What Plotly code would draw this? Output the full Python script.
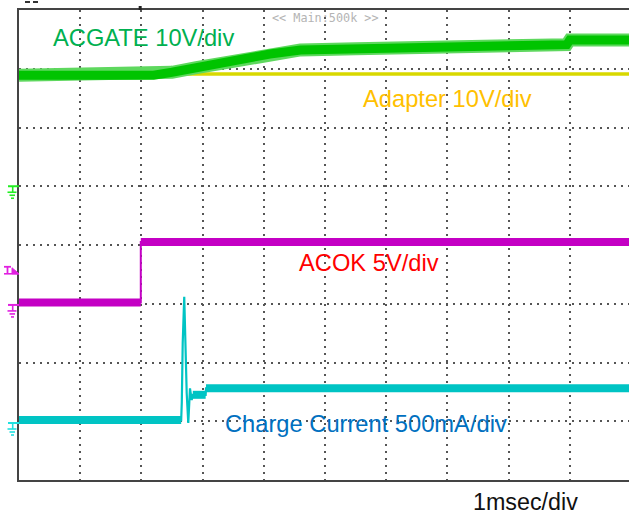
import plotly.graph_objects as go

# Horizontal axis: time in ms (1 ms/div); vertical axis: scope divisions (0..8)
green_t = [0, 2.2, 2.5, 2.9, 3.3, 3.7, 4.1, 4.6, 5.5, 6.5, 8.2, 8.3, 8.95, 9.0, 10]
green_v = [6.89, 6.89, 6.94, 7.02, 7.10, 7.18, 7.25, 7.32, 7.34, 7.36, 7.37, 7.41, 7.41, 7.49, 7.49]

yellow_t = [0, 10]
yellow_v = [6.91, 6.91]

mag_t = [0, 1.99, 1.99, 10]
mag_v = [3.02, 3.02, 4.05, 4.05]

cyan_t = [0, 2.65, 2.66, 2.675, 2.70, 2.724, 2.74, 2.766, 2.794, 2.822, 2.84, 3.05, 3.056, 10]
cyan_v = [1.02, 1.02, 1.32, 2.33, 3.12, 1.99, 1.48, 0.97, 1.56, 1.36, 1.45, 1.45, 1.56, 1.56]

ground_levels = {"green": 5.0, "magenta": 2.98, "cyan": 0.97}
trigger_level = 3.51
trigger_time = 1.98

labels = ["ACGATE 10V/div", "Adapter 10V/div", "ACOK 5V/div", "Charge Current 500mA/div"]
label_t = [0.52, 5.59, 4.55, 3.34]
label_v = [7.52, 6.48, 3.69, 0.96]
label_colors = ["#00b050", "#ffc000", "#ff0000", "#0070c0"]

GREEN = "#00c400"
YELLOW = "#d8d800"
MAGENTA = "#c400c4"
CYAN = "#00c4c4"

fig = go.Figure()

# Adapter (yellow)
fig.add_trace(go.Scatter(x=yellow_t, y=yellow_v, mode="lines",
                         line=dict(color=YELLOW, width=3.5), hoverinfo="skip"))
# ACGATE (green), noisy band drawn as a thick line with lighter fringe
fig.add_trace(go.Scatter(x=green_t, y=green_v, mode="lines",
                         line=dict(color="#5ed85e", width=13), hoverinfo="skip"))
fig.add_trace(go.Scatter(x=green_t, y=green_v, mode="lines",
                         line=dict(color=GREEN, width=9), hoverinfo="skip"))

# ACOK (magenta): thin full trace + thick flat segments
fig.add_trace(go.Scatter(x=mag_t, y=mag_v, mode="lines",
                         line=dict(color=MAGENTA, width=2), hoverinfo="skip"))
fig.add_trace(go.Scatter(x=[mag_t[0], mag_t[1], None, mag_t[2], mag_t[3]],
                         y=[mag_v[0], mag_v[1], None, mag_v[2], mag_v[3]],
                         mode="lines", line=dict(color=MAGENTA, width=8), hoverinfo="skip"))

# Charge current (cyan): thin full trace + thick flat segments
fig.add_trace(go.Scatter(x=cyan_t, y=cyan_v, mode="lines",
                         line=dict(color=CYAN, width=2.2), hoverinfo="skip"))
fig.add_trace(go.Scatter(x=[cyan_t[0], cyan_t[1], None, cyan_t[10], cyan_t[11], None, cyan_t[12], cyan_t[13]],
                         y=[cyan_v[0], cyan_v[1], None, cyan_v[10], cyan_v[11], None, cyan_v[12], cyan_v[13]],
                         mode="lines", line=dict(color=CYAN, width=8), hoverinfo="skip"))

shapes = []


def pline(level, x0, x1, y0, y1, color, width=1.6):
    shapes.append(dict(type="line", xref="paper", yref="y",
                       xsizemode="pixel", xanchor=0, ysizemode="pixel", yanchor=level,
                       x0=x0, x1=x1, y0=y0, y1=y1,
                       line=dict(color=color, width=width)))


def ground(level, color):
    pline(level, -11, 0, 0, 0, color, 2)
    pline(level, -6.3, -6.3, 0, -6, color, 1.6)
    pline(level, -11.5, -2.5, -6, -6, color, 1.6)
    pline(level, -9.5, -4, -9, -9, color, 1.6)
    pline(level, -8, -5, -12, -12, color, 1.6)


ground(ground_levels["green"], "#22ee22")
ground(ground_levels["magenta"], "#e020e0")
ground(ground_levels["cyan"], "#20e0e0")

# trigger level marker "T" + arrow
tc = "#e020e0"
pline(trigger_level, -15, 0, 0, 0, tc, 1.6)
pline(trigger_level, -15, -8, 7, 7, tc, 1.8)
pline(trigger_level, -11.5, -11.5, 7, 0, tc, 1.8)
shapes.append(dict(type="path", xref="paper", yref="y",
                   xsizemode="pixel", xanchor=0, ysizemode="pixel", yanchor=trigger_level,
                   path="M -7 6 L 0 0 L -7 0 Z", fillcolor=tc, line=dict(color=tc, width=1)))

# trigger time marker at the top edge
shapes.append(dict(type="rect", xref="x", yref="paper",
                   xsizemode="pixel", xanchor=trigger_time, ysizemode="pixel", yanchor=1,
                   x0=-1.5, x1=1.5, y0=0, y1=4, fillcolor="#222222", line=dict(width=0)))
# small clipped marks at top-left
for a, b in [(6, 11), (14, 19)]:
    shapes.append(dict(type="line", xref="paper", yref="paper",
                       xsizemode="pixel", xanchor=0, ysizemode="pixel", yanchor=1,
                       x0=a, x1=b, y0=8, y1=8, line=dict(color="#333333", width=2)))

annotations = []
for txt, t, v, c in zip(labels, label_t, label_v, label_colors):
    annotations.append(dict(text=txt, x=t, y=v, xref="x", yref="y", xanchor="left", yanchor="middle",
                            showarrow=False, font=dict(family="Liberation Sans, Arial", size=23.7, color=c)))
annotations.append(dict(text="1msec/div", x=0.7426, y=-0.047, xref="paper", yref="paper",
                        xanchor="left", yanchor="middle", showarrow=False, borderpad=0,
                        font=dict(family="Liberation Sans, Arial", size=23.3, color="#111111")))
annotations.append(dict(text="<< Main:500k >>", x=5.0, y=0.984, xref="x", yref="paper",
                        xanchor="center", yanchor="middle", showarrow=False,
                        font=dict(family="DejaVu Sans Mono", size=11.8, color="#b4b4b4")))

fig.update_layout(
    width=629, height=515,
    margin=dict(l=19, r=0, t=10, b=35, autoexpand=False),
    paper_bgcolor="white", plot_bgcolor="white",
    showlegend=False,
    shapes=shapes,
    annotations=annotations,
    xaxis=dict(range=[0, 610 / 61.2], dtick=1, tick0=0, showticklabels=False, ticks="",
               showgrid=True, gridcolor="#555555", gridwidth=1.5, griddash="2px,5px",
               zeroline=False, showline=True, linecolor="#444444", linewidth=2, mirror=True,
               fixedrange=True),
    yaxis=dict(range=[0, 8], dtick=1, tick0=0, showticklabels=False, ticks="",
               showgrid=True, gridcolor="#555555", gridwidth=1.5, griddash="2px,5px",
               zeroline=False, showline=True, linecolor="#444444", linewidth=2, mirror=False,
               fixedrange=True),
)

fig.write_html("out.html", config={"displayModeBar": False},
               post_script="document.body.style.margin='0px';document.body.style.overflow='hidden';")
